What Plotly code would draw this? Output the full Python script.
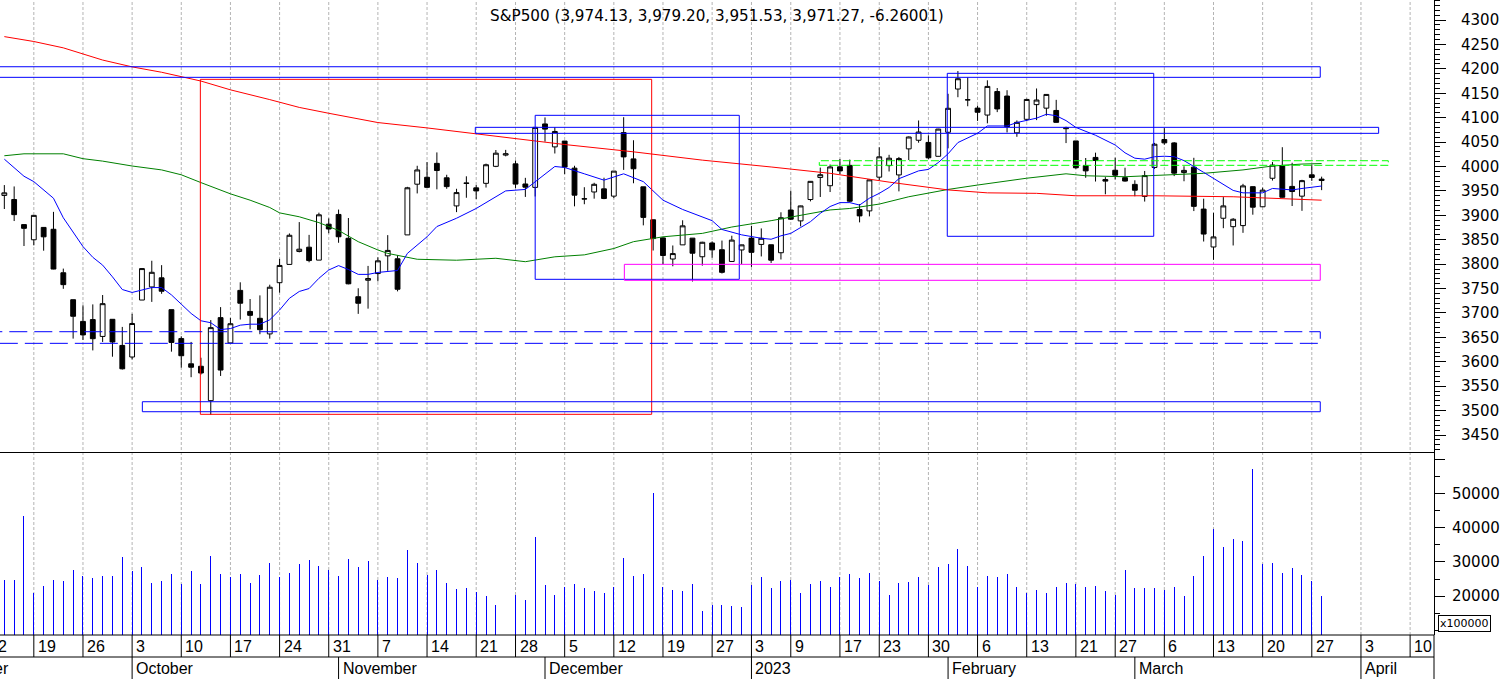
import datetime as dt
import plotly.graph_objects as go

# trading days shown on the chart
dates = [
    "2022-09-14", "2022-09-15", "2022-09-16", "2022-09-19", "2022-09-20", "2022-09-21", "2022-09-22",
    "2022-09-23", "2022-09-26", "2022-09-27", "2022-09-28", "2022-09-29", "2022-09-30",
    "2022-10-03", "2022-10-04", "2022-10-05", "2022-10-06", "2022-10-07", "2022-10-10", "2022-10-11",
    "2022-10-12", "2022-10-13", "2022-10-14", "2022-10-17", "2022-10-18", "2022-10-19", "2022-10-20",
    "2022-10-21", "2022-10-24", "2022-10-25", "2022-10-26", "2022-10-27", "2022-10-28", "2022-10-31",
    "2022-11-01", "2022-11-02", "2022-11-03", "2022-11-04", "2022-11-07", "2022-11-08", "2022-11-09",
    "2022-11-10", "2022-11-11", "2022-11-14", "2022-11-15", "2022-11-16", "2022-11-17", "2022-11-18",
    "2022-11-21", "2022-11-22", "2022-11-23", "2022-11-25", "2022-11-28", "2022-11-29", "2022-11-30",
    "2022-12-01", "2022-12-02", "2022-12-05", "2022-12-06", "2022-12-07", "2022-12-08", "2022-12-09",
    "2022-12-12", "2022-12-13", "2022-12-14", "2022-12-15", "2022-12-16", "2022-12-19", "2022-12-20",
    "2022-12-21", "2022-12-22", "2022-12-23", "2022-12-27", "2022-12-28", "2022-12-29", "2022-12-30",
    "2023-01-03", "2023-01-04", "2023-01-05", "2023-01-06", "2023-01-09", "2023-01-10", "2023-01-11",
    "2023-01-12", "2023-01-13", "2023-01-17", "2023-01-18", "2023-01-19", "2023-01-20", "2023-01-23",
    "2023-01-24", "2023-01-25", "2023-01-26", "2023-01-27", "2023-01-30", "2023-01-31",
    "2023-02-01", "2023-02-02", "2023-02-03", "2023-02-06", "2023-02-07", "2023-02-08", "2023-02-09",
    "2023-02-10", "2023-02-13", "2023-02-14", "2023-02-15", "2023-02-16", "2023-02-17", "2023-02-21",
    "2023-02-22", "2023-02-23", "2023-02-24", "2023-02-27", "2023-02-28",
    "2023-03-01", "2023-03-02", "2023-03-03", "2023-03-06", "2023-03-07", "2023-03-08", "2023-03-09",
    "2023-03-10", "2023-03-13", "2023-03-14", "2023-03-15", "2023-03-16", "2023-03-17", "2023-03-20",
    "2023-03-21", "2023-03-22", "2023-03-23", "2023-03-24", "2023-03-27", "2023-03-28",
]

opens = [
    3940.73, 3932.41, 3880.95, 3849.91, 3875.23, 3871.40, 3782.36, 3727.14, 3682.72, 3686.44, 3651.94, 3687.01, 3633.48,
    3609.78, 3726.46, 3753.25, 3771.97, 3706.74, 3647.51, 3595.86, 3590.83, 3520.37, 3690.41, 3638.65, 3746.26, 3703.11,
    3689.05, 3657.10, 3762.01, 3799.44, 3825.97, 3834.69, 3808.26, 3881.85,
    3901.79, 3852.90, 3733.25, 3766.98, 3780.71, 3817.02, 3810.94, 3859.89, 3963.72, 3977.97, 4006.41, 3976.82, 3919.26,
    3966.39, 3956.23, 3965.51, 4000.30, 4023.34, 4005.36, 3964.19, 3957.18,
    4087.14, 4040.17, 4052.02, 3996.63, 3933.28, 3947.79, 3954.17, 3939.29, 4069.38, 4015.54, 3958.37, 3890.91, 3853.79,
    3810.47, 3839.49, 3853.26, 3815.11, 3843.34, 3829.56, 3805.45, 3829.06,
    3853.29, 3840.36, 3839.74, 3823.37, 3910.82, 3888.57, 3932.35, 3977.57, 3960.60, 3999.28, 4002.25, 3911.84, 3909.04,
    3978.14, 4001.74, 3982.71, 4036.08, 4053.72, 4049.27, 4020.85,
    4070.07, 4158.68, 4136.69, 4119.57, 4105.35, 4153.47, 4144.25, 4068.92, 4096.62, 4126.70, 4119.50, 4114.75, 4077.39,
    4052.35, 4001.83, 4018.60, 3973.24, 3992.36, 3977.19,
    3963.34, 3938.68, 3998.02, 4055.15, 4048.26, 3987.55, 3998.66, 3912.77, 3835.12, 3894.01, 3876.74, 3878.93, 3958.69,
    3917.47, 3975.89, 4002.04, 3959.21, 3939.21, 3982.93, 3974.13,
]
highs = [
    3961.94, 3959.14, 3880.95, 3900.45, 3876.01, 3907.07, 3790.87, 3727.14, 3715.67, 3717.53, 3736.74, 3687.01, 3671.44,
    3698.35, 3791.92, 3806.91, 3797.93, 3706.74, 3652.17, 3640.66, 3608.34, 3685.41, 3712.00, 3689.73, 3762.79, 3728.58,
    3736.00, 3757.89, 3810.74, 3862.85, 3886.15, 3859.95, 3905.42, 3893.73,
    3911.79, 3894.44, 3750.59, 3796.34, 3813.95, 3859.40, 3818.20, 3958.33, 4001.48, 4008.97, 4028.84, 3983.09, 3954.33,
    3979.89, 3962.00, 4005.88, 4033.78, 4034.02, 4012.27, 3976.77, 4080.11,
    4100.51, 4080.48, 4052.45, 4001.51, 3957.57, 3966.66, 3977.02, 3990.71, 4100.96, 4053.76, 3958.37, 3890.91, 3854.86,
    3838.24, 3889.82, 3853.26, 3845.80, 3846.65, 3848.32, 3858.19, 3839.85,
    3878.46, 3873.16, 3839.74, 3906.19, 3950.57, 3919.83, 3970.07, 3997.76, 4003.95, 4015.39, 4014.16, 3922.94, 3972.96,
    4039.31, 4023.92, 4019.55, 4061.57, 4094.21, 4063.85, 4077.16,
    4148.95, 4195.44, 4182.36, 4124.63, 4176.54, 4160.77, 4156.23, 4094.36, 4138.90, 4159.77, 4148.11, 4136.54, 4081.51,
    4052.35, 4017.37, 4028.30, 3978.25, 4018.05, 3997.50,
    3971.73, 3990.84, 4048.29, 4078.49, 4050.00, 4000.41, 4017.81, 3934.05, 3905.05, 3937.29, 3894.26, 3964.46, 3958.91,
    3956.62, 4009.08, 4039.49, 4007.66, 3972.74, 4003.83, 3979.20,
]
lows = [
    3912.91, 3888.28, 3837.08, 3838.50, 3827.54, 3789.49, 3749.45, 3647.47, 3644.76, 3623.29, 3640.61, 3610.40, 3584.13,
    3604.93, 3726.46, 3722.66, 3739.22, 3620.73, 3588.10, 3568.45, 3573.86, 3491.58, 3570.99, 3638.65, 3686.53, 3666.51,
    3656.44, 3647.42, 3741.65, 3799.44, 3824.07, 3803.79, 3808.26, 3863.18,
    3843.80, 3758.68, 3698.15, 3708.84, 3764.70, 3786.28, 3744.22, 3859.89, 3944.82, 3956.40, 3953.17, 3954.34, 3906.54,
    3935.98, 3933.34, 3956.88, 3998.66, 4020.76, 3955.77, 3937.65, 3938.58,
    4050.87, 4026.63, 3984.49, 3918.39, 3922.68, 3934.12, 3933.04, 3935.30, 3993.03, 3965.65, 3879.45, 3827.91, 3800.04,
    3795.62, 3839.49, 3764.49, 3797.01, 3813.22, 3780.78, 3805.45, 3800.34,
    3794.33, 3815.77, 3802.42, 3809.56, 3890.42, 3877.29, 3928.54, 3937.56, 3947.67, 3984.57, 3926.59, 3885.54, 3897.86,
    3971.64, 3989.79, 3949.06, 4013.29, 4048.70, 4015.55, 4020.44,
    4037.20, 4141.88, 4123.36, 4093.38, 4088.39, 4111.35, 4069.67, 4060.79, 4092.67, 4095.01, 4103.98, 4089.89, 4047.95,
    3995.19, 3976.90, 3969.19, 3943.08, 3973.55, 3968.98,
    3939.05, 3928.16, 3995.17, 4044.61, 3980.31, 3969.76, 3908.70, 3846.32, 3808.86, 3873.63, 3838.24, 3864.11, 3901.27,
    3916.89, 3971.19, 3936.17, 3919.05, 3909.16, 3970.47, 3951.53,
]
closes = [
    3946.01, 3901.35, 3873.33, 3899.89, 3855.93, 3789.93, 3757.99, 3693.23, 3655.04, 3647.29, 3719.04, 3640.47, 3585.62,
    3678.43, 3790.93, 3783.28, 3744.52, 3639.66, 3612.39, 3588.84, 3577.03, 3669.91, 3583.07, 3677.95, 3719.98, 3695.16,
    3665.78, 3752.75, 3797.34, 3859.11, 3830.60, 3807.30, 3901.06, 3871.98,
    3856.10, 3759.69, 3719.89, 3770.55, 3806.80, 3828.11, 3748.57, 3956.37, 3992.93, 3957.25, 3991.73, 3958.79, 3946.56,
    3965.34, 3949.94, 4003.58, 4027.26, 4026.12, 3963.94, 3957.63, 4080.11,
    4076.57, 4071.70, 3998.84, 3941.26, 3933.92, 3963.51, 3934.38, 3990.56, 4019.65, 3995.32, 3895.75, 3852.36, 3817.66,
    3821.62, 3878.44, 3822.39, 3844.82, 3829.25, 3783.22, 3849.28, 3839.50,
    3824.14, 3852.97, 3808.10, 3895.08, 3892.09, 3919.25, 3969.61, 3983.17, 3999.09, 3990.97, 3928.86, 3898.85, 3972.61,
    4019.81, 4016.95, 4016.22, 4060.43, 4070.56, 4017.77, 4076.60,
    4119.21, 4179.76, 4136.48, 4111.08, 4164.00, 4117.86, 4081.50, 4090.46, 4137.29, 4136.13, 4147.60, 4090.41, 4079.09,
    3997.34, 3991.05, 4012.32, 3970.04, 3982.24, 3970.15,
    3951.39, 3981.35, 4045.64, 4048.42, 3986.37, 3992.01, 3918.32, 3861.59, 3855.76, 3919.29, 3891.93, 3960.28, 3916.64,
    3951.57, 4002.87, 3936.97, 3948.72, 3970.99, 3977.53, 3971.27,
]
# volume in units of 100000 (the half day of 2022-11-25 has no visible bar)
volumes = [
    24900, 24900, 43700, 21100, 23100, 24900, 24600, 27800, 26000, 25500, 26000, 26000, 31600,
    27500, 28700, 24000, 24600, 26600, 23700, 27500, 23700, 31900, 26600, 25800, 26600, 24000,
    26300, 29800, 25800, 27000, 29500, 30700, 28900, 27800,
    26000, 31000, 28700, 30400, 24900, 25800, 25500, 33500, 29800, 26300, 27800, 24000, 22100,
    22400, 21300, 20100, 17400, None, 20600, 19000, 37500,
    23400, 20600, 22800, 23700, 22500, 21600, 21100, 22800, 31300, 26000, 26600, 50400, 22800,
    21900, 21600, 23700, 15800, 17500, 17500, 17200, 16900,
    23500, 25800, 22400, 24600, 24900, 21100, 23700, 24600, 22800, 25800, 26600, 25500, 27000,
    24600, 20600, 24000, 24300, 25800, 23500, 28700,
    29500, 34000, 28900, 22800, 26000, 25800, 26600, 22800, 21100, 21900, 21100, 22800, 24000,
    23700, 22800, 23100, 21600, 20600, 27800,
    22500, 22500, 22500, 21900, 22800, 20300, 26000, 31900, 39800, 34600, 36900, 36400, 57400,
    29500, 29800, 27000, 28400, 26300, 24600, 20100,
]

# moving averages: trading-day index -> level
blue_at = [0, 2, 3, 5, 6, 8, 9, 10, 11, 12, 13, 14, 15, 16, 17, 18, 19, 20, 21, 22, 23, 24, 25, 26, 27, 28,
           29, 30, 31, 32, 33, 34, 35, 36, 37, 38, 40, 41, 43, 44, 46, 48, 49, 51, 53, 54, 56, 57, 58, 59,
           61, 62, 63, 65, 67, 69, 71, 72, 73, 75, 77, 78, 79, 80, 81, 82, 83, 84, 85, 86, 87, 88, 89, 90,
           91, 93, 94, 95, 96, 97, 99, 100, 102, 103, 105, 106, 107, 108, 109, 111, 113, 114, 115, 116,
           117, 118, 119, 120, 122, 124, 125, 126, 128, 129, 131, 132, 134]
blue_ma = [4015, 3980, 3969, 3935, 3895, 3836, 3814, 3798, 3774, 3748, 3742, 3747, 3752, 3752, 3737, 3718,
           3699, 3684, 3680, 3666, 3668, 3675, 3677, 3677, 3686, 3706, 3730, 3744, 3750, 3771, 3788, 3797,
           3789, 3779, 3779, 3783, 3787, 3822, 3856, 3877, 3894, 3914, 3926, 3950, 3953, 3969, 4000, 3998,
           3991, 3985, 3972, 3979, 3985, 3969, 3931, 3912, 3897, 3889, 3871, 3860, 3853, 3851, 3858, 3863,
           3875, 3887, 3904, 3918, 3926, 3926, 3921, 3935, 3945, 3957, 3975, 3991, 3994, 4008, 4026, 4049,
           4068, 4083, 4083, 4090, 4099, 4107, 4104, 4094, 4080, 4064, 4044, 4028, 4017, 4015, 4020, 4021,
           4020, 4012, 3988, 3963, 3951, 3946, 3946, 3955, 3952, 3955, 3960]
green_at = [0, 2, 6, 8, 10, 13, 16, 18, 20, 23, 25, 27, 28, 30, 32, 34, 36, 37, 38, 39, 42, 46, 50, 53, 56,
            59, 62, 64, 67, 71, 74, 78, 80, 84, 86, 89, 92, 96, 99, 104, 108, 110, 114, 117, 122, 126, 129,
            132, 134]
green_ma = [4022, 4026, 4026, 4016, 4011, 4001, 3993, 3983, 3967, 3944, 3931, 3916, 3905, 3897, 3885, 3869,
            3846, 3837, 3829, 3822, 3810, 3808, 3812, 3805, 3815, 3819, 3832, 3846, 3856, 3863, 3876, 3889,
            3896, 3911, 3914, 3923, 3938, 3953, 3962, 3976, 3985, 3981, 3979, 3982, 3986, 3993, 4001, 4005,
            4006]
red_at = [0, 3, 6, 10, 13, 16, 20, 23, 27, 30, 33, 38, 43, 51, 57, 64, 71, 78, 84, 90, 96, 100, 105, 109,
          117, 125, 131, 134]
red_ma = [4266, 4256, 4243, 4218, 4204, 4193, 4175, 4157, 4137, 4121, 4109, 4090, 4079, 4060, 4045, 4030,
          4013, 3999, 3986, 3968, 3952, 3946, 3945, 3940, 3940, 3938, 3933, 3931]

# drawn zones: start / end in trading days, price band
zone_start = [-3, 19.94, 14.04, -3, 47.91, 54.0, 63.07, 95.92, 82.9]
zone_end = [133.86, 65.85, 133.86, 133.86, 139.8, 74.76, 133.86, 116.92, 140.78]
zone_low = [4182.6, 3492.4, 3497.7, 3637.8, 4067.9, 3768.9, 3766.9, 3857.0, 4002.4]
zone_high = [4204.3, 4178.5, 3518.2, 3661.6, 4080.2, 4104.8, 3799.6, 4190.8, 4011.8]
zone_color = ["#0000ff", "#ff0000", "#0000ff", "#0000ff", "#0000ff", "#0000ff", "#ff00ff", "#0000ff", "#00ff00"]
zone_dash = ["solid", "solid", "solid", "18px,7px", "solid", "solid", "solid", "solid", "8px,3px"]

# calendar days off the left / right of the data (for the date scale)
lead_days = ["2022-09-01", "2022-09-02", "2022-09-06", "2022-09-07", "2022-09-08", "2022-09-09",
             "2022-09-12", "2022-09-13"]
tail_days = ["2023-03-29", "2023-03-30", "2023-03-31", "2023-04-03", "2023-04-04", "2023-04-05",
             "2023-04-06", "2023-04-07", "2023-04-10", "2023-04-11", "2023-04-12", "2023-04-13"]
month_names = ["", "2023", "February", "March", "April", "May", "June", "July", "August",
               "September", "October", "November", "December"]

X0, X1 = -0.44, 145.43
PLOT_W = 1434
SPLIT = 0.2874
ROW = 22 / 635
FONT = "DejaVu Sans"

pos = list(range(len(dates)))


def frac(p):
    return (p - X0) / (X1 - X0)


fig = go.Figure()
# one-pixel volume sticks; the tiny transparency makes plotly snap them to whole pixels
fig.add_trace(go.Bar(x=pos, y=volumes, width=(X1 - X0) / PLOT_W,
                     marker=dict(color="rgba(0,0,255,0.995)", line=dict(width=0)),
                     yaxis="y2", hoverinfo="skip"))
fig.add_trace(go.Candlestick(
    x=pos, open=opens, high=highs, low=lows, close=closes, whiskerwidth=0,
    increasing=dict(line=dict(color="black", width=1), fillcolor="white"),
    decreasing=dict(line=dict(color="black", width=1), fillcolor="black"),
))
for at, ma, col in ((green_at, green_ma, "#008000"), (red_at, red_ma, "#ff0000"), (blue_at, blue_ma, "#0000ff")):
    fig.add_trace(go.Scatter(x=at, y=ma, mode="lines", line=dict(color=col, width=1), hoverinfo="skip"))

for i in range(len(zone_start)):
    fig.add_shape(type="rect", xref="x", yref="y", x0=zone_start[i], x1=zone_end[i],
                  y0=zone_low[i], y1=zone_high[i], line=dict(color=zone_color[i], width=1, dash=zone_dash[i]))

# date scale
axis_days = [dt.date.fromisoformat(d) for d in lead_days + dates + tail_days]
prev = None
for k, day in enumerate(axis_days):
    p = k - len(lead_days)
    new_week = prev is not None and day.isocalendar()[1] != prev.isocalendar()[1]
    new_month = prev is None or day.month != prev.month
    prev = day
    if new_week:
        if X0 <= p <= X1:
            fig.add_shape(type="line", xref="x", yref="paper", x0=p, x1=p, y0=0, y1=1, layer="below",
                          line=dict(color="#b4b4b4", width=1, dash="3px,2px"))
        fig.add_shape(type="line", xref="x", yref="paper", x0=p, x1=p, y0=-ROW, y1=0,
                      line=dict(color="black", width=1))
        fig.add_annotation(xref="paper", yref="paper", x=frac(p), y=-ROW / 2, xanchor="left", yanchor="middle",
                           xshift=2, text=str(day.day), showarrow=False,
                           font=dict(family="Liberation Sans", size=16, color="black"))
    if new_month:
        fig.add_shape(type="line", xref="x", yref="paper", x0=p, x1=p, y0=-2 * ROW, y1=-ROW,
                      line=dict(color="black", width=1))
        fig.add_annotation(xref="paper", yref="paper", x=frac(p), y=-1.5 * ROW, xanchor="left", yanchor="middle",
                           xshift=2, text=month_names[day.month], showarrow=False,
                           font=dict(family="Liberation Sans", size=16, color="black"))

for yy in (SPLIT, 0, -ROW):
    fig.add_shape(type="line", xref="paper", yref="paper", x0=0, x1=1, y0=yy, y1=yy,
                  line=dict(color="black", width=1))
fig.add_shape(type="line", xref="paper", yref="paper", x0=1, x1=1, y0=-2 * ROW, y1=0,
              line=dict(color="black", width=1))

fig.add_annotation(xref="paper", yref="paper", x=0.5, y=1, yanchor="top", yshift=-5, showarrow=False,
                   text="S&P500 (3,974.13, 3,979.20, 3,951.53, 3,971.27, -6.26001)",
                   font=dict(family=FONT, size=15.2, color="black"))
fig.add_annotation(xref="paper", yref="paper", x=1.003, y=0.018, xanchor="left", yanchor="middle",
                   showarrow=False, text="x100000", bgcolor="white", bordercolor="black", borderwidth=1,
                   borderpad=1, font=dict(family=FONT, size=11, color="black"))

fig.update_layout(
    width=1506, height=679,
    margin=dict(l=0, r=1506 - PLOT_W, t=0, b=44),
    paper_bgcolor="white", plot_bgcolor="white",
    showlegend=False, bargap=0, bargroupgap=0,
    xaxis=dict(range=[X0, X1], showticklabels=False, showgrid=False, zeroline=False, showline=False,
               ticks="", rangeslider=dict(visible=False)),
    yaxis=dict(domain=[SPLIT, 1], range=[3414.2, 4341.0], side="right", showgrid=False, zeroline=False,
               showline=True, linecolor="black", linewidth=1, ticks="outside", ticklen=11, tickcolor="black",
               tickmode="linear", tick0=0, dtick=50, tickformat="d", ticklabelstandoff=12,
               tickfont=dict(family=FONT, size=15, color="black"),
               minor=dict(dtick=10, ticks="outside", ticklen=5, tickcolor="black")),
    yaxis2=dict(domain=[0, SPLIT], range=[8626, 61990], side="right", anchor="x", showgrid=False,
                zeroline=False, showline=True, linecolor="black", linewidth=1, ticks="outside", ticklen=10,
                tickcolor="black", tickmode="array",
                tickvals=[10000, 20000, 30000, 40000, 50000, 60000],
                ticktext=["", "20000", "30000", "40000", "50000", ""], ticklabelstandoff=4,
                tickfont=dict(family=FONT, size=15, color="black"),
                minor=dict(tickmode="array", tickvals=[15000, 25000, 35000, 45000, 55000],
                           ticks="outside", ticklen=5, tickcolor="black")),
)

fig.write_html("out.html", config={"displayModeBar": False},
               post_script="document.body.style.margin='0';")
